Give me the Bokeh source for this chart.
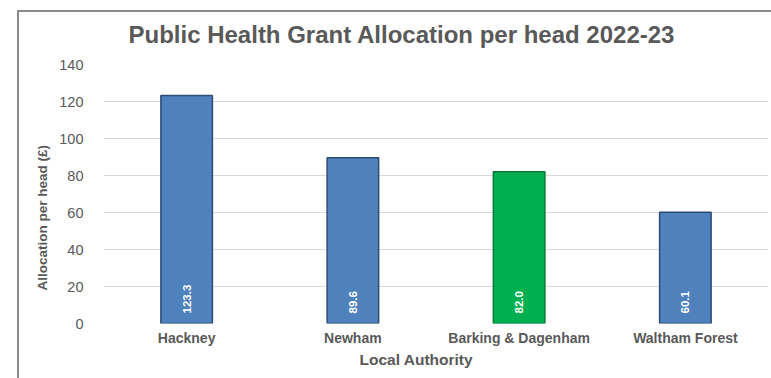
from bokeh.plotting import figure
from bokeh.models import ColumnDataSource, Title, FactorRange, Range1d
from bokeh.embed import file_html
from bokeh.resources import INLINE
from bokeh.core.properties import value
import math

# ---- data ----
authorities = ["Hackney", "Newham", "Barking & Dagenham", "Waltham Forest"]
allocation = [123.3, 89.6, 82.0, 60.1]
bar_colors = ["#4F81BD", "#4F81BD", "#00B050", "#4F81BD"]
edge_colors = ["#2E4D75", "#2E4D75", "#007A38", "#2E4D75"]
y_ticks = [0, 20, 40, 60, 80, 100, 120, 140]
title_text = "Public Health Grant Allocation per head 2022-23"
x_title = "Local Authority"
y_title = "Allocation per head (£)"

labels = ["%.1f" % v for v in allocation]
src = ColumnDataSource(dict(x=authorities, top=allocation, fill=bar_colors,
                            edge=edge_colors, lab=labels, zero=[0] * len(allocation)))

FONT = "Liberation Sans"
GREY = "#595959"

p = figure(x_range=FactorRange(*authorities), y_range=Range1d(0, 140),
           width=771, height=378, output_backend="svg", toolbar_location=None,
           min_border_left=103, min_border_right=3, min_border_top=64, min_border_bottom=55)
# outer chart border (grey lines at left and top, as in the reference)
p.styles = {
    "background": "linear-gradient(#8c8c8c,#8c8c8c) 17px 10px / 2px 100% no-repeat, "
                  "linear-gradient(#8c8c8c,#8c8c8c) 17px 10px / 100% 2px no-repeat, white"
}
p.border_fill_alpha = 0
p.background_fill_color = "white"

p.vbar(x="x", top="top", width=0.31, source=src, fill_color="fill",
       line_color="edge", line_width=1.5)

p.text(x="x", y="zero", text="lab", source=src, angle=math.pi / 2,
       text_align="left", text_baseline="middle", y_offset=-10,
       text_color="white", text_font=value(FONT), text_font_style="bold",
       text_font_size="11.5px")

p.outline_line_color = None

p.xgrid.grid_line_color = None
p.ygrid.grid_line_color = "#D9D9D9"
p.ygrid.grid_line_width = 1
p.yaxis.ticker = y_ticks

for ax in (p.xaxis[0], p.yaxis[0]):
    ax.axis_line_color = None
    ax.major_tick_line_color = None
    ax.minor_tick_line_color = None
    ax.major_label_text_font = FONT
    ax.major_label_text_color = GREY

p.yaxis.major_label_text_font_size = "14.5px"
p.yaxis.major_label_standoff = 14

p.xaxis.major_label_text_font_size = "14px"
p.xaxis.major_label_text_font_style = "bold"
p.xaxis.major_label_standoff = 0

p.title = Title(text=title_text, align="left", offset=25, standoff=34,
                text_font=FONT, text_font_style="bold", text_font_size="24px",
                text_color=GREY)
p.add_layout(Title(text=x_title, align="left", offset=256, standoff=0,
                   text_font=FONT, text_font_style="bold", text_font_size="15.5px",
                   text_color=GREY), "below")
p.add_layout(Title(text=y_title, align="left", offset=33, standoff=14,
                   text_font=FONT, text_font_style="bold", text_font_size="13.5px",
                   text_color=GREY), "left")

open("out.html", "w").write(file_html(p, INLINE))
